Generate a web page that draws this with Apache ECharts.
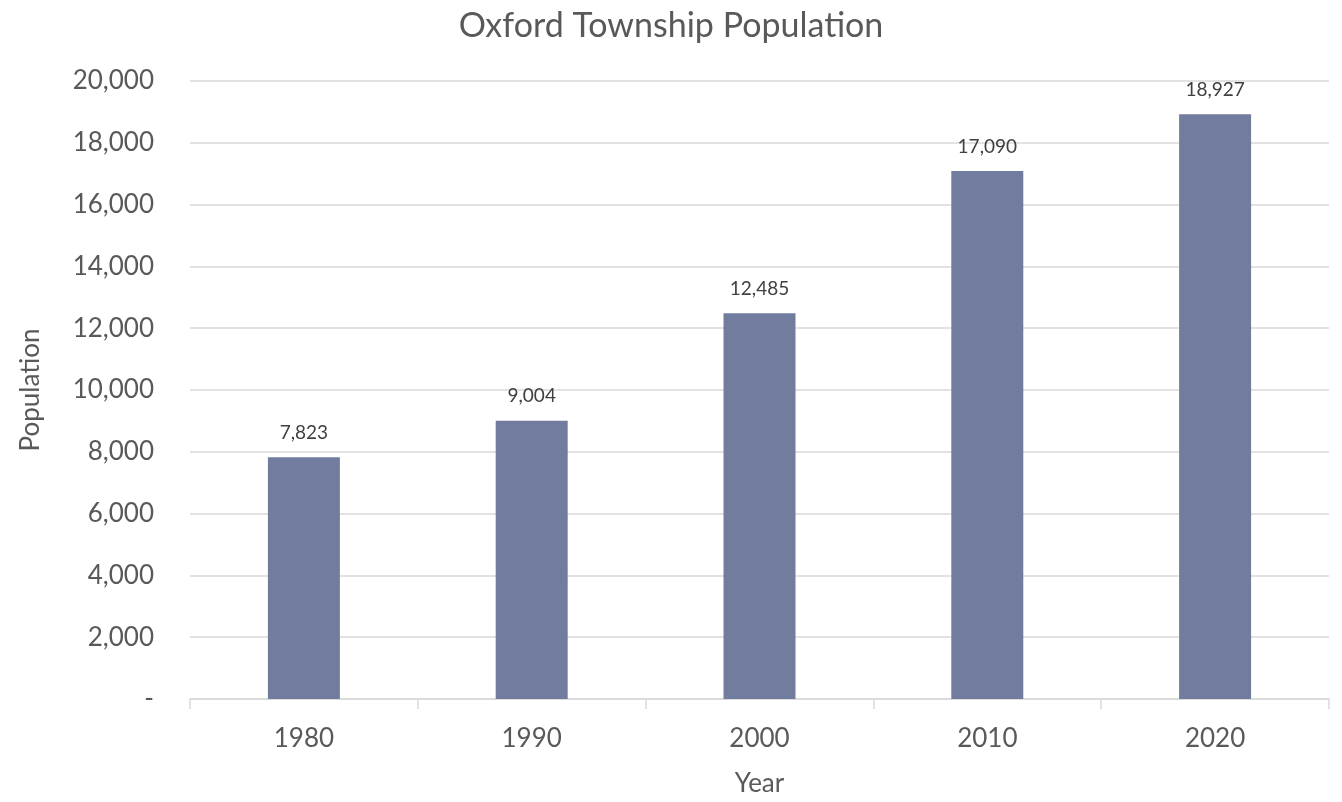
<!DOCTYPE html>
<html>
<head>
<meta charset="utf-8">
<script src="https://cdn.jsdelivr.net/npm/echarts@6/dist/echarts.min.js"></script>
<style>
  html, body { margin: 0; padding: 0; background: #fff; }
  #chart { width: 1342px; height: 802px; }
</style>
</head>
<body>
<div id="chart"></div>
<script>
// 数据
const years = ['1980', '1990', '2000', '2010', '2020'];
const population = [7823, 9004, 12485, 17090, 18927];

const textColor = '#595959';
const gridColor = '#d9d9d9';
const font = 'Lato';

const myChart = echarts.init(document.getElementById('chart'));
const option = {
  backgroundColor: '#fff',
  textStyle: { fontFamily: font },
  title: {
    text: 'Oxford Township Population',
    left: 'center',
    top: 4,
    textStyle: { fontFamily: font, fontSize: 34, fontWeight: 'normal', color: textColor }
  },
  grid: { left: 190, right: 13, top: 81, bottom: 101, containLabel: false },
  xAxis: {
    type: 'category',
    data: years,
    name: 'Year',
    nameLocation: 'middle',
    nameGap: 72,
    nameTextStyle: { fontFamily: font, fontSize: 26, color: textColor },
    axisLine: { lineStyle: { color: gridColor, width: 1.5 } },
    axisTick: { show: true, length: 10, lineStyle: { color: gridColor, width: 1.5 } },
    axisLabel: { fontFamily: font, fontSize: 26, color: textColor, margin: 27 }
  },
  yAxis: {
    type: 'value',
    min: 0,
    max: 20000,
    interval: 2000,
    name: 'Population',
    nameLocation: 'middle',
    nameGap: 146,
    nameTextStyle: { fontFamily: font, fontSize: 26, color: textColor },
    axisLine: { show: false },
    axisTick: { show: false },
    splitLine: { lineStyle: { color: gridColor, width: 1.5 } },
    axisLabel: {
      fontFamily: font,
      fontSize: 26,
      color: textColor,
      margin: 36,
      formatter: function (v) {
        return v === 0 ? '-' : v.toLocaleString('en-US');
      }
    }
  },
  series: [{
    name: 'Population',
    type: 'bar',
    data: population,
    barWidth: '31.6%',
    itemStyle: { color: '#727c9f' },
    label: {
      show: true,
      position: 'top',
      distance: 15,
      fontFamily: font,
      fontSize: 19,
      color: '#404040',
      formatter: function (p) {
        return p.value.toLocaleString('en-US');
      }
    }
  }]
};
myChart.setOption(option, true);
</script>
</body>
</html>
